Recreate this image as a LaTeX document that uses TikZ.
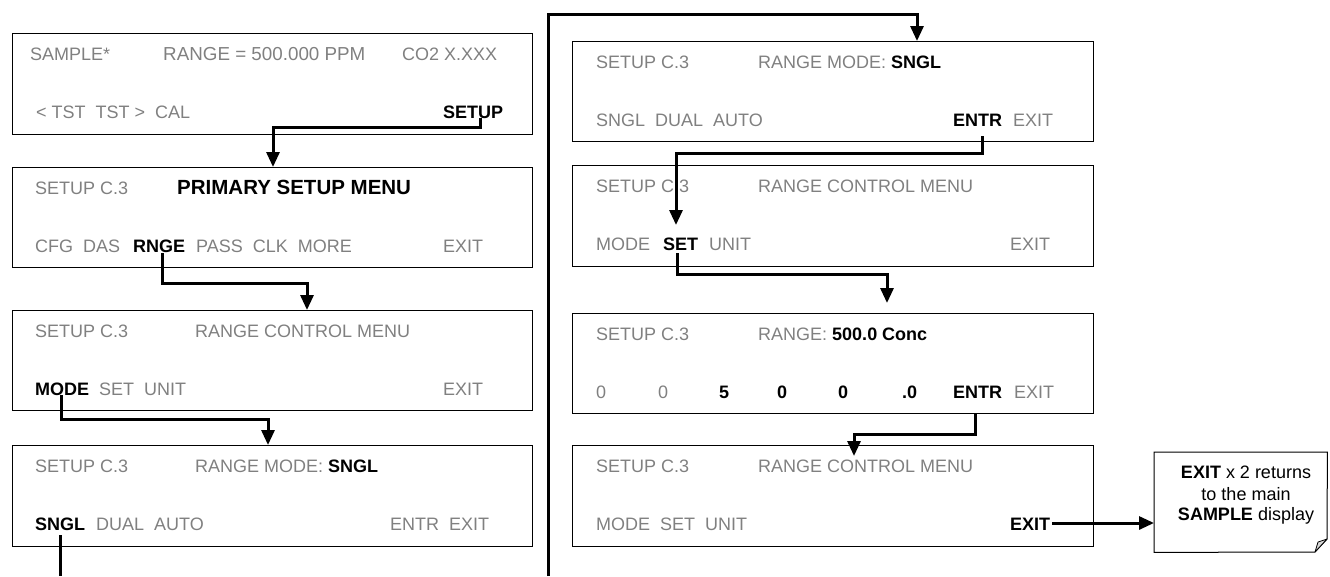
\documentclass[tikz,border=0pt]{standalone}
\usepackage{fontspec}
\setmainfont{Liberation Sans}
\usetikzlibrary{arrows.meta}
\definecolor{lcd}{RGB}{128,128,128}
\definecolor{foldgray}{RGB}{215,215,215}
\begin{document}
\begin{tikzpicture}[x=1pt,y=-1pt,
  scr/.style={draw, line width=1pt, anchor=north west, inner sep=0pt, minimum width=520pt},
  txt/.style={anchor=base west, inner sep=0pt, text=lcd, font=\fontsize{18}{21}\selectfont},
  bt/.style={anchor=base west, inner sep=0pt, text=black, font=\fontsize{18}{21}\selectfont\bfseries},
  nt/.style={anchor=base, inner sep=0pt, text=black, font=\fontsize{18}{21}\selectfont},
  conn/.style={line width=3pt, -{Triangle[length=15pt,width=13pt]}},
  plain/.style={line width=3pt}]
\useasboundingbox (0,0) rectangle (1330,576);
% ---- left column screens
\node[scr, minimum height=101pt] (L1) at (12,33) {};
\node[scr, minimum height=100pt] (L2) at (12,167) {};
\node[scr, minimum height=100pt] (L3) at (12,310) {};
\node[scr, minimum height=101pt] (L4) at (12,445) {};
% ---- right column screens
\node[scr, minimum width=521pt, minimum height=100pt] (R1) at (572,41) {};
\node[scr, minimum width=521pt, minimum height=101pt] (R2) at (572,165) {};
\node[scr, minimum width=521pt, minimum height=100pt] (R3) at (572,313) {};
\node[scr, minimum width=521pt, minimum height=101pt] (R4) at (572,445) {};
% ---- L1 texts
\node[txt] (l1a) at (30,60) {SAMPLE*};
\node[txt, font=\fontsize{18.8}{21}\selectfont] (l1b) at (163,60) {RANGE = 500.000 PPM};
\node[txt] (l1c) at (402,60) {CO2 X.XXX};
\node[txt] (l1d) at (36,118) {<~TST~~TST~>~~CAL};
\node[bt] (l1e) at (443,118) {SETUP};
% ---- L2 texts
\node[txt] (l2a) at (35,194) {SETUP C.3};
\node[bt, font=\fontsize{20.5}{21}\selectfont\bfseries] (l2b) at (177,194) {PRIMARY SETUP MENU};
\node[txt] (l2c) at (35,252) {CFG~~DAS};
\node[bt] (l2d) at (133,252) {RNGE};
\node[txt] (l2e) at (196,252) {PASS~~CLK~~MORE};
\node[txt] (l2f) at (443,252) {EXIT};
% ---- L3 texts
\node[txt] (l3a) at (35,337) {SETUP C.3};
\node[txt] (l3b) at (195,337) {RANGE CONTROL MENU};
\node[bt] (l3c) at (35,395) {MODE};
\node[txt] (l3d) at (99,395) {SET~~UNIT};
\node[txt] (l3e) at (443,395) {EXIT};
% ---- L4 texts
\node[txt] (l4a) at (35,472) {SETUP C.3};
\node[txt] (l4b) at (195,472) {RANGE MODE: \textcolor{black}{\bfseries SNGL}};
\node[bt] (l4c) at (35,530) {SNGL};
\node[txt] (l4d) at (96,530) {DUAL~~AUTO};
\node[txt] (l4e) at (390,530) {ENTR~~EXIT};
% ---- R1 texts
\node[txt] (r1a) at (596,68) {SETUP C.3};
\node[txt] (r1b) at (758,68) {RANGE MODE: \textcolor{black}{\bfseries SNGL}};
\node[txt] (r1c) at (596,126) {SNGL~~DUAL~~AUTO};
\node[bt] (r1d) at (953,126) {ENTR};
\node[txt] (r1e) at (1013,126) {EXIT};
% ---- R2 texts
\node[txt] (r2a) at (596,192) {SETUP C.3};
\node[txt] (r2b) at (758,192) {RANGE CONTROL MENU};
\node[txt] (r2c) at (596,250) {MODE};
\node[bt] (r2d) at (663,250) {SET};
\node[txt] (r2e) at (709,250) {UNIT};
\node[txt] (r2f) at (1010,250) {EXIT};
% ---- R3 texts
\node[txt] (r3a) at (596,340) {SETUP C.3};
\node[txt] (r3b) at (758,340) {RANGE: \textcolor{black}{\bfseries 500.0 Conc}};
\node[txt] (r3c) at (596,398) {0};
\node[txt] (r3d) at (658,398) {0};
\node[bt] (r3e) at (719,398) {5};
\node[bt] (r3f) at (777,398) {0};
\node[bt] (r3g) at (838,398) {0};
\node[bt] (r3h) at (902,398) {.0};
\node[bt] (r3i) at (953,398) {ENTR};
\node[txt] (r3j) at (1014,398) {EXIT};
% ---- R4 texts
\node[txt] (r4a) at (596,472) {SETUP C.3};
\node[txt] (r4b) at (758,472) {RANGE CONTROL MENU};
\node[txt] (r4c) at (596,530) {MODE~~SET~~UNIT};
\node[bt] (r4d) at (1010,530) {EXIT};
% ---- note
\node[minimum width=173pt, minimum height=100pt, inner sep=0pt, anchor=north west] (N) at (1154,452) {};
\draw[line width=1pt, line join=miter] (N.north west) -- (N.north east) -- (1327,539) -- (1315,552) -- (N.south west) -- cycle;
\draw[line width=0.8pt, fill=foldgray, line join=round] (1315,552) -- (1318,542) -- (1327,539) -- cycle;
\node[nt] (n1) at (1246,478) {\textbf{EXIT} x 2 returns};
\node[nt] (n2) at (1246,500) {to the main};
\node[nt] (n3) at (1246,520) {\textbf{SAMPLE} display};
% ---- connector points
\coordinate (s1) at (480,118);
\coordinate (e1) at (273,167);
\coordinate (s2) at (162,253);
\coordinate (e2) at (307,310);
\coordinate (s3) at (61,395);
\coordinate (e3) at (268,445);
\coordinate (s4) at (60,535);
\coordinate (o4) at (60,576);
\coordinate (s5) at (548,576);
\coordinate (e5) at (917,41);
\coordinate (s6) at (982,136);
\coordinate (e6) at (676,225);
\coordinate (s7) at (677,253);
\coordinate (e7) at (887,303);
\coordinate (s8) at (975,413);
\coordinate (e8) at (854,456);
\coordinate (s9) at (1052,523);
% ---- connectors
\draw[conn] (s1) -- ++(0,9) -| (e1);
\draw[conn] (s2) -- ++(0,30) -| (e2);
\draw[conn] (s3) -- ++(0,24) -| (e3);
\draw[plain] (s4) -- (o4);
\draw[conn] (s5) -- (548,14) -| (e5);
\draw[conn] (s6) -- ++(0,17) -| (e6);
\draw[conn] (s7) -- ++(0,21) -| (e7);
\draw[conn] (s8) -- ++(0,21) -| (e8);
\draw[conn] (s9) -- (N.west |- s9);
\end{tikzpicture}
\end{document}
